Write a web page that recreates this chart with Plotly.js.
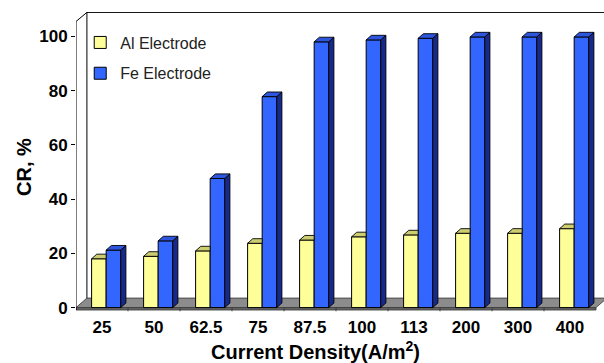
<!DOCTYPE html>
<html>
<head>
<meta charset="utf-8">
<script src="https://cdn.plot.ly/plotly-3.0.1.min.js"></script>
<style>
  html, body { margin: 0; padding: 0; background: #fff; }
  #chart { width: 604px; height: 363px; }
</style>
</head>
<body>
<div id="chart"></div>
<script>
// Removal efficiency (CR, %) versus current density for two electrode materials
const densityLabels = ['25', '50', '62.5', '75', '87.5', '100', '113', '200', '300', '400'];
const alElectrode = [18.0, 18.9, 20.9, 23.7, 24.9, 26.1, 26.8, 27.4, 27.4, 29.1];
const feElectrode = [21.2, 24.6, 47.6, 77.8, 98.0, 98.7, 99.3, 99.8, 99.8, 99.8];

// Pseudo-3D column geometry (axis units)
const BAR_W = 0.28;          // front face width
const AL_OFF = -0.20;        // left edge of Al column relative to category centre
const FE_OFF = 0.08;         // left edge of Fe column
const BAR_DX = 0.10;         // column depth, horizontal
const BAR_DY = 1.7;          // column depth, vertical
const WALL_DX = 0.21;        // floor / wall depth, horizontal
const WALL_DY = 3.5;         // floor / wall depth, vertical
const Y_TOP = 109;
const X_MIN = -0.5;
const X_MAX = X_MIN + 528 / 52;

const idx = densityLabels.map((_, i) => i);
const FONT = 'Arial, "Liberation Sans", sans-serif';

// Build top / side faces as polygons separated by gaps
function topFaces(vals, off, clipRight) {
  const xs = [], ys = [];
  vals.forEach((v, i) => {
    const l = i + off, r = l + BAR_W;
    if (clipRight) {
      xs.push(l, r, r, l + BAR_DX, l, null);
    } else {
      xs.push(l, r, r + BAR_DX, l + BAR_DX, l, null);
    }
    ys.push(v, v, v + BAR_DY, v + BAR_DY, v, null);
  });
  return {x: xs, y: ys};
}
function sideFaces(vals, off) {
  const xs = [], ys = [];
  vals.forEach((v, i) => {
    const r = i + off + BAR_W;
    xs.push(r, r + BAR_DX, r + BAR_DX, r, r, null);
    ys.push(0, BAR_DY, v + BAR_DY, v, 0, null);
  });
  return {x: xs, y: ys};
}

const alTop = topFaces(alElectrode, AL_OFF, true);
const feTop = topFaces(feElectrode, FE_OFF, false);
const feSide = sideFaces(feElectrode, FE_OFF);

const edge = {color: '#000', width: 0.9};

const traces = [
  {
    type: 'bar', name: 'Al Electrode', x: idx, y: alElectrode,
    width: BAR_W, offset: AL_OFF,
    marker: {color: '#FFFF99', line: {color: '#000', width: 1}},
    legendgroup: 'al', hoverinfo: 'skip'
  },
  {
    type: 'bar', name: 'Fe Electrode', x: idx, y: feElectrode,
    width: BAR_W, offset: FE_OFF,
    marker: {color: '#3366FF', line: {color: '#000', width: 1}},
    legendgroup: 'fe', hoverinfo: 'skip'
  },
  {
    type: 'scatter', mode: 'lines', x: alTop.x, y: alTop.y,
    fill: 'toself', fillcolor: '#CCCC70', line: edge,
    showlegend: false, hoverinfo: 'skip'
  },
  {
    type: 'scatter', mode: 'lines', x: feSide.x, y: feSide.y,
    fill: 'toself', fillcolor: '#16288A', line: edge,
    showlegend: false, hoverinfo: 'skip'
  },
  {
    type: 'scatter', mode: 'lines', x: feTop.x, y: feTop.y,
    fill: 'toself', fillcolor: '#2E55DD', line: edge,
    showlegend: false, hoverinfo: 'skip'
  }
];

// Floor, walls and category separators
const shapes = [
  {
    type: 'path', xref: 'x', yref: 'y', layer: 'below',
    path: `M ${X_MIN},0 L ${X_MIN + 10},0 L ${X_MIN + 10},-0.9 L ${X_MIN},-0.9 Z`,
    fillcolor: '#6a6a6a', line: {color: '#333', width: 0.8}
  },
  {
    type: 'path', xref: 'x', yref: 'y', layer: 'below',
    path: `M ${X_MIN},0 L ${X_MIN + 10},0 L ${X_MIN + 10 + WALL_DX},${WALL_DY} L ${X_MIN + WALL_DX},${WALL_DY} Z`,
    fillcolor: '#8c8c8c', line: {color: '#333', width: 0.8}
  },
  {
    type: 'path', xref: 'x', yref: 'y', layer: 'below',
    path: `M ${X_MIN},-0.9 L ${X_MIN},${Y_TOP - WALL_DY} L ${X_MIN + WALL_DX},${Y_TOP - 0.15} L ${X_MAX + 1},${Y_TOP - 0.15}`,
    line: {color: '#000', width: 1}
  },
  {
    type: 'line', xref: 'x', yref: 'y', layer: 'below',
    x0: X_MIN + WALL_DX, x1: X_MIN + WALL_DX, y0: WALL_DY, y1: Y_TOP,
    line: {color: '#000', width: 1}
  }
];
for (let k = 1; k < densityLabels.length; k++) {
  shapes.push({
    type: 'line', xref: 'x', yref: 'y', layer: 'below',
    x0: X_MIN + k, x1: X_MIN + k, y0: 0, y1: -1.4,
    line: {color: '#333', width: 0.8}
  });
}

const titleFont = {family: FONT, size: 20, color: '#000', weight: 'bold'};

const layout = {
  width: 604, height: 363,
  margin: {l: 76, r: 0, t: 12, b: 50},
  paper_bgcolor: '#fff', plot_bgcolor: 'rgba(0,0,0,0)',
  barmode: 'overlay',
  showlegend: true,
  legend: {
    x: 0.008, y: 0.955, xanchor: 'left', yanchor: 'top',
    font: {family: FONT, size: 16, color: '#222'},
    bgcolor: 'rgba(0,0,0,0)', tracegroupgap: 7, traceorder: 'grouped'
  },
  xaxis: {
    range: [X_MIN, X_MAX], showgrid: false, zeroline: false, showline: false,
    tickmode: 'array', tickvals: idx, ticktext: densityLabels,
    ticks: '', ticklabelstandoff: 2,
    tickfont: {family: FONT, size: 17, color: '#000', weight: 'bold'}
  },
  yaxis: {
    range: [-2, Y_TOP], showgrid: false, zeroline: false, showline: false,
    tickmode: 'array', tickvals: [0, 20, 40, 60, 80, 100],
    ticks: 'outside', ticklen: 4, tickcolor: '#000', tickwidth: 1,
    tickfont: {family: FONT, size: 17, color: '#000', weight: 'bold'}
  },
  annotations: [
    {
      text: 'Current Density(A/m<sup>2</sup>)', xref: 'paper', yref: 'paper',
      x: 0.4545, y: -0.123, xanchor: 'center', yanchor: 'middle',
      showarrow: false, font: titleFont
    },
    {
      text: 'CR, %', xref: 'paper', yref: 'paper', textangle: -90,
      x: -0.0985, y: 0.485, xanchor: 'center', yanchor: 'middle',
      showarrow: false, font: titleFont
    }
  ],
  shapes: shapes
};

Plotly.newPlot('chart', traces, layout, {staticPlot: true, displayModeBar: false});
</script>
</body>
</html>
